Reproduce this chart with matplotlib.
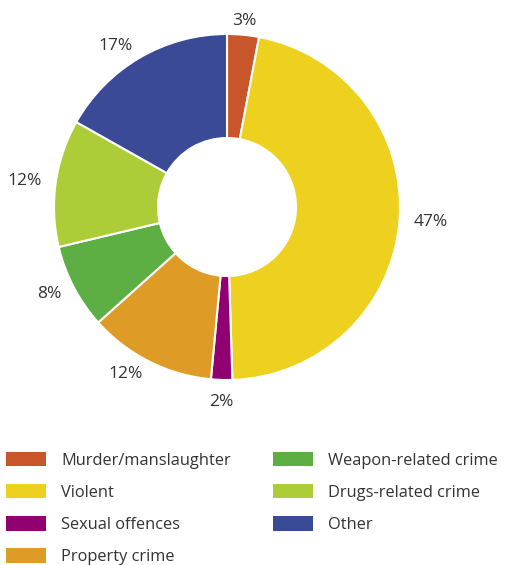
import matplotlib
matplotlib.use("Agg")
import numpy as np
import matplotlib.pyplot as plt
from matplotlib.patches import Patch

categories = ["Murder/manslaughter", "Violent", "Sexual offences", "Property crime",
              "Weapon-related crime", "Drugs-related crime", "Other"]
values = [3, 47, 2, 12, 8, 12, 17]
labels = ["3%", "47%", "2%", "12%", "8%", "12%", "17%"]
colors = ["#C9562A", "#EDD11E", "#900070", "#DE9B26", "#5DAE43", "#ADCD38", "#3A4A97"]

plt.rcParams['font.family'] = ['Open Sans', 'DejaVu Sans']

W, H = 511, 565
fig = plt.figure(figsize=(W / 100, H / 100), dpi=100)
ax = fig.add_axes([0, 0, 1, 1])
cx, cy, R = 227, 207, 173

wedges, texts = ax.pie(values, labels=labels, colors=colors, startangle=90, counterclock=False,
                       radius=1.0, labeldistance=1.08,
                       wedgeprops=dict(width=(173 - 69) / 173, edgecolor="white", linewidth=1.5),
                       textprops=dict(fontsize=12.5, color="#333333"))
for w, t in zip(wedges, texts):
    ang = np.deg2rad((w.theta1 + w.theta2) / 2)
    c, s = np.cos(ang), np.sin(ang)
    if c < -0.3:
        t.set_ha("right")
    elif c > 0.3:
        t.set_ha("left")
    else:
        t.set_ha("center")
    t.set_va("top" if s < -0.9 else "center")

ax.set_xlim(-cx / R, (W - cx) / R)
ax.set_ylim(-(H - cy) / R, cy / R)
ax.set_aspect("auto")
ax.axis("off")

handles = [Patch(facecolor=c, edgecolor="none") for c in colors]
fs = 11.8
px = fs * 100 / 72
leg = fig.legend(handles, categories, ncol=2, loc="upper left",
                 bbox_to_anchor=(6 / W, 1 - 452 / H), frameon=False, fontsize=fs,
                 handlelength=40 / px, handleheight=16 / px, handletextpad=15 / px,
                 labelspacing=0.93, columnspacing=2.6, borderpad=0, borderaxespad=0)
for t in leg.get_texts():
    t.set_color("#333333")

fig.savefig("out.png", dpi=100)
